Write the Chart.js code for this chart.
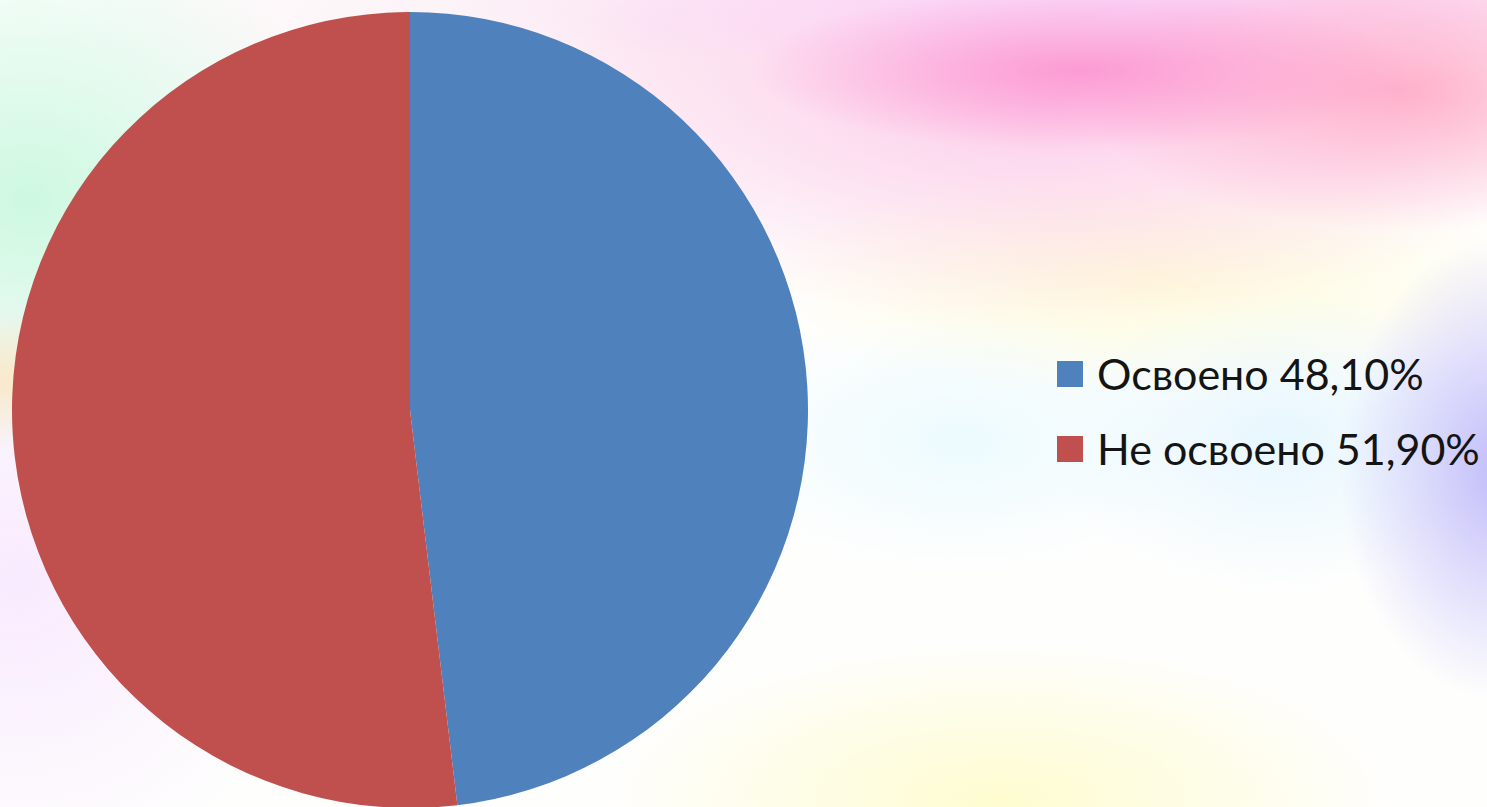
<!DOCTYPE html>
<html>
<head>
<meta charset="utf-8">
<script src="https://cdn.jsdelivr.net/npm/chart.js@4.4.1/dist/chart.umd.min.js"></script>
<style>
  html, body { margin: 0; padding: 0; width: 1487px; height: 807px; overflow: hidden; }
  body {
    position: relative;
    background:
      radial-gradient(ellipse 330px 80px at 1080px 70px, rgba(252,145,208,0.85), rgba(252,145,208,0) 100%),
      radial-gradient(ellipse 320px 140px at 1400px 90px, rgba(255,165,195,0.85), rgba(255,165,195,0) 100%),
      radial-gradient(ellipse 700px 70px at 1150px 5px, rgba(250,210,248,0.95), rgba(250,210,248,0) 100%),
      radial-gradient(ellipse 520px 230px at 1050px 100px, rgba(252,190,228,0.75), rgba(252,190,228,0) 100%),
      radial-gradient(ellipse 160px 230px at 1500px 470px, rgba(190,185,250,0.95), rgba(190,185,250,0) 100%),
      radial-gradient(ellipse 230px 150px at 1280px 440px, rgba(225,245,255,0.8), rgba(225,245,255,0) 100%),
      radial-gradient(ellipse 260px 130px at 960px 440px, rgba(232,250,255,0.8), rgba(232,250,255,0) 100%),
      radial-gradient(ellipse 400px 160px at 1000px 800px, rgba(254,252,205,0.95), rgba(254,252,205,0) 100%),
      radial-gradient(ellipse 400px 120px at 1150px 280px, rgba(255,252,215,0.9), rgba(255,252,215,0) 100%),
      radial-gradient(ellipse 320px 70px at 60px 380px, rgba(253,228,185,0.8), rgba(253,228,185,0) 100%),
      radial-gradient(ellipse 300px 300px at 20px 580px, rgba(248,232,255,0.9), rgba(248,232,255,0) 100%),
      radial-gradient(ellipse 330px 280px at 30px 200px, rgba(205,248,225,1), rgba(205,248,225,0) 100%),
      radial-gradient(ellipse 600px 220px at 650px 40px, rgba(250,225,238,0.6), rgba(250,225,238,0) 100%),
      #fefefd;
  }
  #pie { position: absolute; left: 12px; top: 12px; width: 796px; height: 796px; }
  #legend { position: absolute; left: 1057px; top: 336px; font-family: Lato, "Open Sans", sans-serif; color: #141414; }
  .item { display: flex; align-items: center; height: 75px; white-space: nowrap; }
  .box { width: 26px; height: 26px; margin-right: 14px; flex: none; }
</style>
</head>
<body>
<div id="pie"><canvas id="grafica"></canvas></div>
<div id="legend"></div>
<script>
const categorias = ['Освоено 48,10%', 'Не освоено 51,90%'];
const valores = [48.1, 51.9];
const colores = ['#4F81BD', '#C0504D'];

let ctx = document.getElementById('grafica').getContext('2d');
new Chart(ctx, {
    type: 'pie',
    data: {
        labels: categorias,
        datasets: [{
            data: valores,
            backgroundColor: colores,
            borderWidth: 0,
            hoverOffset: 0
        }]
    },
    options: {
        responsive: true,
        maintainAspectRatio: false,
        animation: false,
        layout: { padding: 0 },
        plugins: {
            legend: { display: false },
            tooltip: { enabled: false }
        }
    }
});

// leyenda en HTML, a la derecha
let legend = document.getElementById('legend');
let m = document.createElement('canvas').getContext('2d');
m.font = '100px Lato';
let ancho = m.measureText(categorias[1]).width;
let tam = Math.round(100 * 380 / ancho);
legend.style.fontSize = tam + 'px';
categorias.forEach((c, i) => {
    let row = document.createElement('div');
    row.className = 'item';
    row.innerHTML = '<span class="box" style="background:' + colores[i] + '"></span><span>' + c + '</span>';
    legend.appendChild(row);
});
</script>
</body>
</html>
